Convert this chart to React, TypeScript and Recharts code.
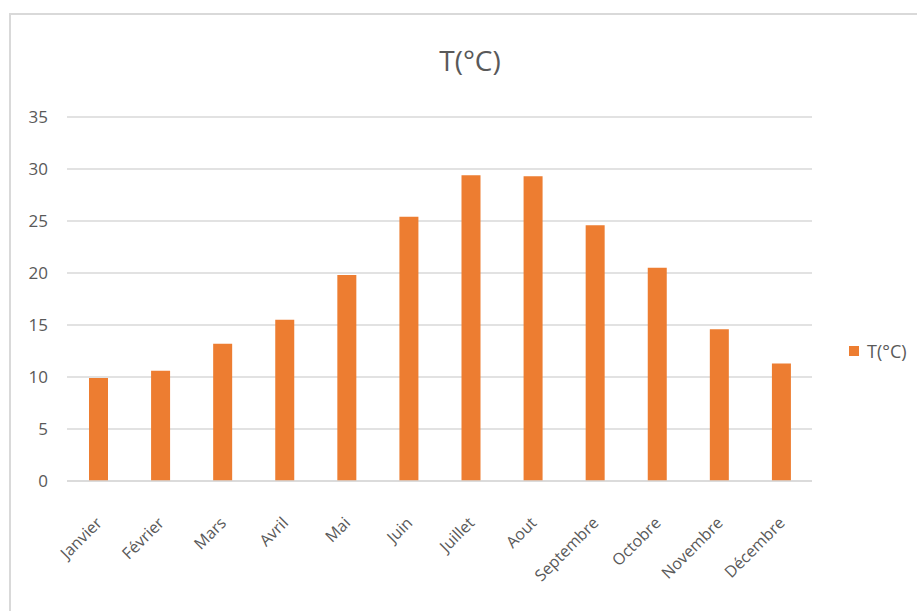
import { Bar, BarChart, CartesianGrid, Legend, XAxis, YAxis } from 'recharts'

const MONTHS = [
  'Janvier',
  'Février',
  'Mars',
  'Avril',
  'Mai',
  'Juin',
  'Juillet',
  'Aout',
  'Septembre',
  'Octobre',
  'Novembre',
  'Décembre',
]

const TEMPS = [9.9, 10.6, 13.2, 15.5, 19.8, 25.4, 29.4, 29.3, 24.6, 20.5, 14.6, 11.3]

const Y_TICKS = [0, 5, 10, 15, 20, 25, 30, 35]

const SERIES_NAME = 'T(°C)'

const BAR_COLOR = '#ED7D31'
const GRID_COLOR = '#D9D9D9'
const TEXT_COLOR = '#595959'
const FONT = '"Open Sans", "Liberation Sans", sans-serif'

const data = MONTHS.map((month, i) => ({ month, temp: TEMPS[i] }))

function MonthTick(props: any) {
  const { x, y, payload } = props
  return (
    <g transform={`translate(${x + 5},${y + 35})`}>
      <text
        transform="rotate(-45)"
        textAnchor="end"
        fill={TEXT_COLOR}
        fontSize={16}
        fontFamily={FONT}
      >
        {payload.value}
      </text>
    </g>
  )
}

function LegendContent() {
  return (
    <div style={{ display: 'flex', alignItems: 'center', fontFamily: FONT }}>
      <span
        style={{
          display: 'inline-block',
          width: 10,
          height: 10,
          background: BAR_COLOR,
          marginRight: 8,
        }}
      />
      <span style={{ fontSize: 18, color: TEXT_COLOR, lineHeight: '20px' }}>
        {SERIES_NAME}
      </span>
    </div>
  )
}

export default function App() {
  return (
    <div
      style={{
        position: 'fixed',
        left: 0,
        top: 0,
        width: 917,
        height: 611,
        background: '#fff',
        overflow: 'hidden',
      }}
    >
      <div
        style={{
          position: 'absolute',
          left: 9,
          top: 13,
          width: 940,
          height: 640,
          borderTop: `2px solid ${GRID_COLOR}`,
          borderLeft: `2px solid ${GRID_COLOR}`,
        }}
      />
      <div
        style={{
          position: 'absolute',
          left: 0,
          width: 940,
          top: 39,
          textAlign: 'center',
          fontFamily: FONT,
          fontSize: 28,
          color: TEXT_COLOR,
          lineHeight: '42px',
        }}
      >
        {SERIES_NAME}
      </div>
      <div style={{ position: 'absolute', left: 0, top: 0 }}>
        <BarChart
          width={917}
          height={611}
          data={data}
          margin={{ top: 117, right: 105, left: 0, bottom: 0 }}
          barSize={19}
        >
          <CartesianGrid vertical={false} stroke={GRID_COLOR} strokeWidth={1.5} />
          <XAxis
            dataKey="month"
            axisLine={{ stroke: GRID_COLOR, strokeWidth: 1.5 }}
            tickLine={false}
            interval={0}
            height={130}
            tick={<MonthTick />}
          />
          <YAxis
            domain={[0, 35]}
            ticks={Y_TICKS}
            width={67}
            axisLine={false}
            tickLine={false}
            tickSize={0}
            tickMargin={19}
            tick={{ fill: TEXT_COLOR, fontSize: 17, fontFamily: FONT }}
          />
          <Legend
            layout="horizontal"
            verticalAlign="middle"
            align="center"
            content={<LegendContent />}
            wrapperStyle={{ left: 849, top: 341, width: 80 }}
          />
          <Bar dataKey="temp" name={SERIES_NAME} fill={BAR_COLOR} isAnimationActive={false} />
        </BarChart>
      </div>
    </div>
  )
}
